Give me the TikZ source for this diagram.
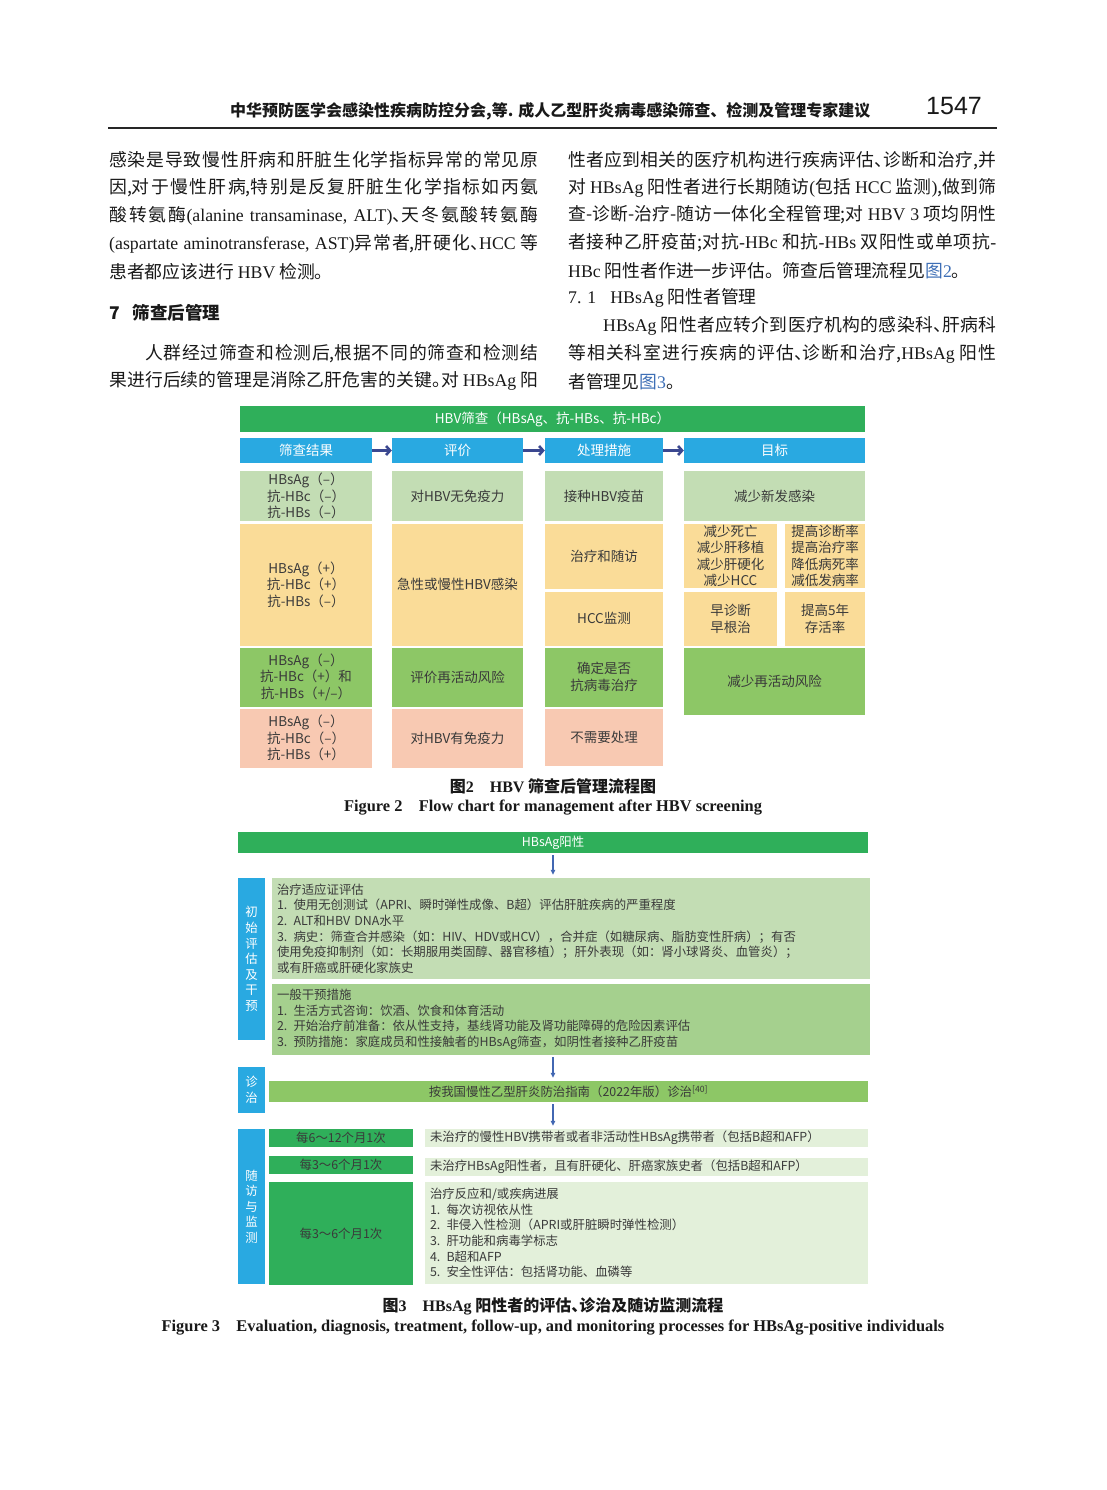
\documentclass[tikz,border=0pt]{standalone}
\usepackage{fontspec}
\usepackage{tikz}
\usetikzlibrary{arrows.meta,positioning}
\setmainfont{Liberation Serif}
\setsansfont{Liberation Sans}
\newfontfamily\cjk{Noto Sans CJK SC}
% inter-character glue between ideographs, so justified lines can stretch
\newXeTeXintercharclass\hanzicls
\count255="4E00
\loop
  \XeTeXcharclass\count255=\hanzicls
  \advance\count255 by 1
  \ifnum\count255<"A000 \repeat
\XeTeXinterchartoks\hanzicls\hanzicls={\hskip 0pt plus 3pt\relax}
\XeTeXinterchartokenstate=1
\definecolor{hbgreen}{HTML}{2FAF5A}
\definecolor{hdblue}{HTML}{29A9E1}
\definecolor{lgreen}{HTML}{C3DDB4}
\definecolor{ygold}{HTML}{FADC98}
\definecolor{mgreen}{HTML}{8DC766}
\definecolor{salmon}{HTML}{F8C9B2}
\definecolor{bgreen}{HTML}{A5D08E}
\definecolor{pale}{HTML}{E3F0DA}
\definecolor{arrnavy}{HTML}{3B4890}
\definecolor{arrblue}{HTML}{4267B2}
\definecolor{txt}{HTML}{3A3A3A}
\definecolor{link}{HTML}{3E6FB6}
\newcommand\la[1]{{\rmfamily #1}}
\newcommand\dun{\makebox[0.5em][l]{、}}
\newcommand\jline[2]{\makebox[#1pt][s]{#2}}
\begin{document}
\begin{tikzpicture}[x=1pt,y=-1pt,font=\cjk]
            \tikzstyle{bodyline}=[anchor=west,inner sep=0pt,text=black!90,font=\cjk\fontsize{17.8}{17.8}\selectfont]
            \tikzstyle{headline}=[anchor=west,inner sep=0pt,text=black!90,font=\cjk\bfseries\fontsize{17.5}{17.5}\selectfont]
            \tikzstyle{cell}=[inner sep=0pt,align=center,text=txt,font=\cjk\fontsize{13.5}{16.5}\selectfont]
            \tikzstyle{head cell}=[cell,fill=hdblue,text=white,minimum height=25pt]
            \tikzstyle{fcell}=[inner sep=0pt,align=center,text=txt,font=\cjk\fontsize{12.4}{15.6}\selectfont]
            \tikzstyle{side cell}=[fcell,fill=hdblue,text=white,minimum width=27pt]
            \tikzstyle{list cell}=[fcell,align=left,inner xsep=5pt]
            \tikzstyle{capzh}=[inner sep=0pt,text=black!90,font=\cjk\bfseries\fontsize{16}{16}\selectfont]
            \tikzstyle{capen}=[inner sep=0pt,text=black!90,font=\rmfamily\bfseries\fontsize{16.4}{16.4}\selectfont]
            \tikzstyle{flow arrow}=[draw=arrnavy,line width=2.6pt,-{Straight Barb[length=4pt,width=9pt]}]
            \tikzstyle{down arrow}=[draw=arrblue,line width=1.2pt,shorten <=2pt,shorten >=3pt,-{Triangle[length=5pt,width=4.5pt]}]
            \useasboundingbox[fill=white] (0,0) rectangle (1106,1490);
            % running head
            \node[anchor=west,inner sep=0pt,text=black!90,font=\cjk\bfseries\fontsize{16}{16}\selectfont] (runhead) at (230,111) {中华预防医学会感染性疾病防控分会,等. 成人乙型肝炎病毒感染筛查、检测及管理专家建议};
            \node[inner sep=0pt,text=black!90,font=\sffamily\fontsize{25}{25}\selectfont] (pageno) at (954,106) {1547};
            \draw[line width=1.5pt,black!85] (108,128) -- (997,128);
            % left column
            \node[bodyline] (la1) at (109,160) {\jline{429}{感染是导致慢性肝病和肝脏生化学指标异常的常见原}};
            \node[bodyline] (la2) at (109,188) {\jline{429}{因,对于慢性肝病,特别是反复肝脏生化学指标如丙氨}};
            \node[bodyline] (la3) at (109,216) {\jline{429}{酸转氨酶\la{(alanine transaminase, ALT)}\dun 天冬氨酸转氨酶}};
            \node[bodyline] (la4) at (109,244) {\jline{429}{\la{(aspartate aminotransferase, AST)}异常者,肝硬化\dun\la{HCC} 等}};
            \node[bodyline] (la5) at (109,272) {患者都应该进行 \la{HBV} 检测。};
            \node[headline] (sec7) at (109,313) {7\hspace{13pt}筛查后管理};
            \node[bodyline] (la6) at (145,354) {\jline{393}{人群经过筛查和检测后,根据不同的筛查和检测结}};
            \node[bodyline] (la7) at (109,381) {\jline{429}{果进行后续的管理是消除乙肝危害的关键\makebox[0.5em][l]{。}对 \la{HBsAg} 阳}};
            % right column
            \node[bodyline] (ra1) at (568,161) {\jline{428}{性者应到相关的医疗机构进行疾病评估\dun 诊断和治疗,并}};
            \node[bodyline] (ra2) at (568,188) {\jline{428}{对 \la{HBsAg} 阳性者进行长期随访\la{(}包括 \la{HCC} 监测\la{)},做到筛}};
            \node[bodyline] (ra3) at (568,215) {\jline{428}{查-诊断-治疗-随访一体化全程管理;对 \la{HBV 3} 项均阴性}};
            \node[bodyline] (ra4) at (568,243) {\jline{428}{者接种乙肝疫苗;对抗\la{-HBc} 和抗\la{-HBs} 双阳性或单项抗\la{-}}};
            \node[bodyline] (ra5) at (568,271) {\la{HBc} 阳性者作进一步评估。筛查后管理流程见\textcolor{link}{图\la{2}}。};
            \node[bodyline] (sub71) at (568,298) {\la{7. 1}\hspace{14pt}\la{HBsAg} 阳性者管理};
            \node[bodyline] (ra6) at (603,326) {\jline{393}{\la{HBsAg} 阳性者应转介到医疗机构的感染科\dun 肝病科}};
            \node[bodyline] (ra7) at (568,354) {\jline{428}{等相关科室进行疾病的评估\dun 诊断和治疗,\la{HBsAg} 阳性}};
            \node[bodyline] (ra8) at (568,382) {者管理见\textcolor{link}{图\la{3}}。};
            % figure 2
            \node[cell,fill=hbgreen,text=white,minimum width=625pt,minimum height=26pt] (scr) at (552.5,419) {HBV筛查（HBsAg、抗-HBs、抗-HBc）};
            \node[head cell,minimum width=132pt] (h1) at (306,450.5) {筛查结果};
            \node[head cell,minimum width=131pt] (h2) at (457.5,450.5) {评价};
            \node[head cell,minimum width=118pt] (h3) at (604,450.5) {处理措施};
            \node[head cell,minimum width=181pt] (h4) at (774.5,450.5) {目标};
            \draw[flow arrow] (h1) -- (h2);
            \draw[flow arrow] (h2) -- (h3);
            \draw[flow arrow] (h3) -- (h4);
            \node[cell,fill=lgreen,minimum width=132pt,minimum height=50pt] (s1) at (306,496) {HBsAg（–）\\抗-HBc（–）\\抗-HBs（–）};
            \node[cell,fill=lgreen,minimum width=131pt,minimum height=50pt] (e1) at (457.5,496) {对HBV无免疫力};
            \node[cell,fill=lgreen,minimum width=118pt,minimum height=50pt] (t1) at (604,496) {接种HBV疫苗};
            \node[cell,fill=lgreen,minimum width=181pt,minimum height=50pt] (g1) at (774.5,496) {减少新发感染};
            \node[cell,fill=ygold,minimum width=132pt,minimum height=122pt] (s2) at (306,584.5) {HBsAg（+）\\抗-HBc（+）\\抗-HBs（–）};
            \node[cell,fill=ygold,minimum width=131pt,minimum height=122pt] (e2) at (457.5,584.5) {急性或慢性HBV感染};
            \node[cell,fill=ygold,minimum width=118pt,minimum height=65.5pt] (t2a) at (604,556.25) {治疗和随访};
            \node[cell,fill=ygold,minimum width=118pt,minimum height=54pt] (t2b) at (604,618.5) {HCC监测};
            \node[cell,fill=ygold,minimum width=93pt,minimum height=64.5pt] (g2a) at (730.5,555.75) {减少死亡\\减少肝移植\\减少肝硬化\\减少HCC};
            \node[cell,fill=ygold,minimum width=80pt,minimum height=64.5pt] (g2b) at (825,555.75) {提高诊断率\\提高治疗率\\降低病死率\\减低发病率};
            \node[cell,fill=ygold,minimum width=93pt,minimum height=53.5pt] (g2c) at (730.5,618.75) {早诊断\\早根治};
            \node[cell,fill=ygold,minimum width=80pt,minimum height=53.5pt] (g2d) at (825,618.75) {提高5年\\存活率};
            \node[cell,fill=mgreen,minimum width=132pt,minimum height=59pt] (s3) at (306,677) {HBsAg（–）\\抗-HBc（+）和\\抗-HBs（+/–）};
            \node[cell,fill=mgreen,minimum width=131pt,minimum height=59pt] (e3) at (457.5,677) {评价再活动风险};
            \node[cell,fill=mgreen,minimum width=118pt,minimum height=59pt] (t3) at (604,677) {确定是否\\抗病毒治疗};
            \node[cell,fill=mgreen,minimum width=181pt,minimum height=67.5pt] (g3) at (774.5,681.25) {减少再活动风险};
            \node[cell,fill=salmon,minimum width=132pt,minimum height=59.5pt] (s4) at (306,738.25) {HBsAg（–）\\抗-HBc（–）\\抗-HBs（+）};
            \node[cell,fill=salmon,minimum width=131pt,minimum height=59.5pt] (e4) at (457.5,738.25) {对HBV有免疫力};
            \node[cell,fill=salmon,minimum width=118pt,minimum height=57.5pt] (t4) at (604,737.25) {不需要处理};
            \node[capzh] (cap2) at (553,786) {图\la{2}\hspace{1em}\la{HBV} 筛查后管理流程图};
            \node[capen] (cap2en) at (553,808) {Figure 2\hspace{1em}Flow chart for management after HBV screening};
            % figure 3
            \node[fcell,fill=hbgreen,text=white,minimum width=630pt,minimum height=21pt] (pos) at (553,842.5) {HBsAg阳性};
            \node[side cell,minimum height=162pt] (init) at (251.5,959) {初\\始\\评\\估\\及\\干\\预};
            \node[list cell,fill=lgreen,text width=588pt,minimum height=101pt] (b1) at (571,928.5) {治疗适应证评估\\
              1. 使用无创测试（APRI、瞬时弹性成像、B超）评估肝脏疾病的严重程度\\
              2. ALT和HBV DNA水平\\
              3. 病史：筛查合并感染（如：HIV、HDV或HCV），合并症（如糖尿病、脂肪变性肝病）；有否\\
              使用免疫抑制剂（如：长期服用类固醇、器官移植）；肝外表现（如：肾小球肾炎、血管炎）；\\
              或有肝癌或肝硬化家族史};
            \node[list cell,fill=bgreen,text width=588pt,minimum height=71pt] (b2) at (571,1019.5) {一般干预措施\\
              1. 生活方式咨询：饮酒、饮食和体育活动\\
              2. 开始治疗前准备：依从性支持，基线肾功能及肾功能障碍的危险因素评估\\
              3. 预防措施：家庭成员和性接触者的HBsAg筛查，如阴性者接种乙肝疫苗};
            \node[side cell,minimum height=46pt] (dx) at (251.5,1090) {诊\\治};
            \node[fcell,fill=mgreen,minimum width=599pt,minimum height=21pt] (dz) at (568.5,1091.5) {按我国慢性乙型肝炎防治指南（2022年版）诊治\textsuperscript{[40]}};
            \node[side cell,minimum height=155pt] (fu) at (251.5,1206.5) {随\\访\\与\\监\\测};
            \node[fcell,fill=hbgreen,minimum width=144pt,minimum height=18pt] (q1) at (341,1138) {每6～12个月1次};
            \node[fcell,fill=hbgreen,minimum width=144pt,minimum height=18pt] (q2) at (341,1165) {每3～6个月1次};
            \node[fcell,fill=hbgreen,minimum width=144pt,minimum height=103pt] (q3) at (341,1233.5) {每3～6个月1次};
            \node[list cell,fill=pale,text width=433pt,minimum height=18pt] (p1) at (646.5,1138) {未治疗的慢性HBV携带者或者非活动性HBsAg携带者（包括B超和AFP）};
            \node[list cell,fill=pale,text width=433pt,minimum height=18pt] (p2) at (646.5,1167) {未治疗HBsAg阳性者，且有肝硬化、肝癌家族史者（包括B超和AFP）};
            \node[list cell,fill=pale,text width=433pt,minimum height=102pt] (p3) at (646.5,1233) {治疗反应和/或疾病进展\\
              1. 每次访视依从性\\
              2. 非侵入性检测（APRI或肝脏瞬时弹性检测）\\
              3. 肝功能和病毒学标志\\
              4. B超和AFP\\
              5. 安全性评估：包括肾功能、血磷等};
            \draw[down arrow] (pos.south) -- (pos.south |- b1.north);
            \draw[down arrow] (b2.south -| pos.south) -- (pos.south |- dz.north);
            \draw[down arrow] (dz.south -| pos.south) -- (pos.south |- p1.north);
            \node[capzh] (cap3) at (553,1306) {图\la{3}\hspace{1em}\la{HBsAg} 阳性者的评估\dun 诊治及随访监测流程};
            \node[capen] (cap3en) at (553,1328) {Figure 3\hspace{1em}Evaluation, diagnosis, treatment, follow-up, and monitoring processes for HBsAg-positive individuals};
          \end{tikzpicture}
\end{document}
